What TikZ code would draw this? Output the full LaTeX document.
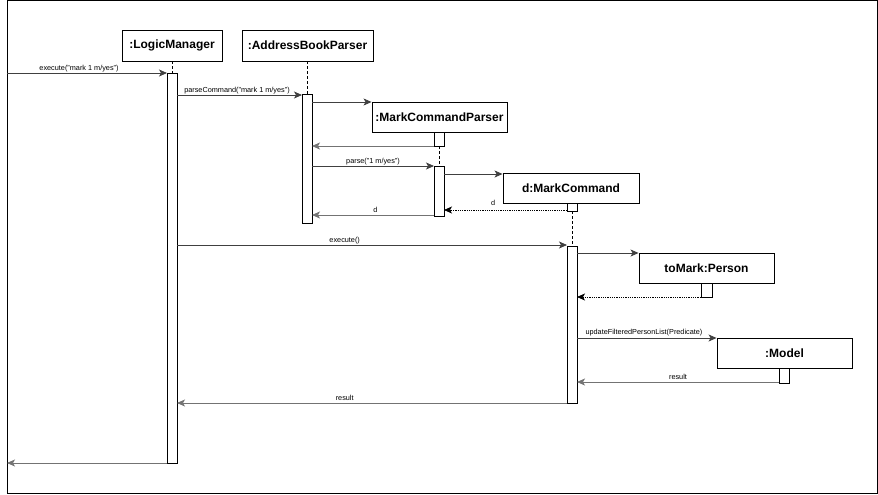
\documentclass[tikz,border=0pt]{standalone}
\usepackage{fontspec}
\setmainfont{Liberation Sans}
\usetikzlibrary{arrows.meta}
\begin{document}
\begin{tikzpicture}[x=1pt,y=-1pt,
  obj/.style={draw=black,line width=0.9pt,fill=white,inner sep=0pt,font=\fontsize{12}{14}\selectfont\bfseries},
  act/.style={draw=black,line width=0.8pt,fill=white},
  msg/.style={draw=black!75,line width=0.8pt,-{Stealth[length=8pt,width=7pt,inset=2pt]}},
  ret/.style={msg,draw=black!55},
  dret/.style={msg,densely dotted,draw=black},
  life/.style={draw=black,line width=0.6pt,dash pattern=on 3pt off 2pt},
  lbl/.style={font=\fontsize{7.3}{8}\selectfont,inner sep=1pt,anchor=south}]
\useasboundingbox (0,0) rectangle (878,495);
\draw[line width=1pt] (7,1) rectangle (877,493);
% objects
\node[obj,minimum width=100pt,minimum height=31pt] (lm) at (172,45.5) {:LogicManager};
\node[obj,minimum width=131pt,minimum height=31pt] (abp) at (307.5,45.5) {:AddressBookParser};
\node[obj,minimum width=135pt,minimum height=30pt] (mcp) at (439.5,117) {:MarkCommandParser};
\node[obj,minimum width=136pt,minimum height=30pt] (mc) at (571,188) {d:MarkCommand};
\node[obj,minimum width=135pt,minimum height=30pt] (pe) at (706.5,268) {toMark:Person};
\node[obj,minimum width=135pt,minimum height=30pt] (mo) at (784.5,353) {:Model};
% lifelines
\coordinate (lmT) at (172,73);
\coordinate (abpT) at (307.5,94);
\coordinate (mcpA) at (439,146);
\coordinate (mcpB) at (439,166);
\coordinate (mcA) at (572,211);
\coordinate (mcB) at (572,246);
\draw[life] (lm.south) -- (lmT);
\draw[life] (abp.south) -- (abpT);
\draw[life] (mcpA) -- (mcpB);
\draw[life] (mcA) -- (mcB);
% activation bars
\draw[act] (167,73) rectangle (177,463);
\draw[act] (302,94) rectangle (312,223);
\draw[act] (434,132) rectangle (444,146);
\draw[act] (434,166) rectangle (444,216);
\draw[act] (567,203) rectangle (577,211);
\draw[act] (567,246) rectangle (577,403);
\draw[act] (701,283) rectangle (712,297);
\draw[act] (779,368) rectangle (789,383);
% coordinates for message ends
\coordinate (start) at (7,73);
\coordinate (lm1) at (167,73);
\coordinate (lm2a) at (177,95);
\coordinate (abp1) at (302,95);
\coordinate (abp2a) at (312,102);
\coordinate (mcpL) at (mcp.west |- 0,102);
\coordinate (mcpR1) at (434,146);
\coordinate (abp3) at (312,146);
\coordinate (abp4) at (312,166);
\coordinate (mcp4) at (434,166);
\coordinate (mcp5) at (444,174);
\coordinate (mcL) at (mc.west |- 0,174);
\coordinate (mc6) at (567,210);
\coordinate (mcp6) at (444,210);
\coordinate (mcp7) at (434,215);
\coordinate (abp7) at (312,215);
\coordinate (lm8) at (177,245);
\coordinate (mc8) at (567,245);
\coordinate (mc9) at (577,253);
\coordinate (peL) at (pe.west |- 0,253);
\coordinate (pe10) at (701,297);
\coordinate (mc10) at (577,297);
\coordinate (mc11) at (577,338);
\coordinate (moL) at (mo.west |- 0,338);
\coordinate (mo12) at (779,382);
\coordinate (mc12) at (577,382);
\coordinate (mc13) at (567,403);
\coordinate (lm13) at (177,403);
\coordinate (lm14) at (167,463);
\coordinate (end) at (7,463);
% messages
\draw[msg] (start) -- node[lbl,pos=0.45]{execute("mark 1 m/yes")} (lm1);
\draw[msg] (lm2a) -- node[lbl,pos=0.48]{parseCommand("mark 1 m/yes")} (abp1);
\draw[msg] (abp2a) -- (mcpL);
\draw[ret] (mcpR1) -- (abp3);
\draw[msg] (abp4) -- node[lbl]{parse("1 m/yes")} (mcp4);
\draw[msg] (mcp5) -- (mcL);
\draw[dret] (mc6) -- node[lbl,pos=0.6,yshift=3pt]{d} (mcp6);
\draw[ret] (mcp7) -- node[lbl,pos=0.48,yshift=1pt]{d} (abp7);
\draw[msg] (lm8) -- node[lbl,pos=0.43]{execute()} (mc8);
\draw[msg] (mc9) -- (peL);
\draw[dret] (pe10) -- (mc10);
\draw[msg] (mc11) -- node[lbl,pos=0.48,yshift=1pt]{updateFilteredPersonList(Predicate)} (moL);
\draw[ret] (mo12) -- node[lbl,pos=0.5,yshift=1pt]{result} (mc12);
\draw[ret] (mc13) -- node[lbl,pos=0.57,yshift=1pt]{result} (lm13);
\draw[ret] (lm14) -- (end);
\end{tikzpicture}
\end{document}
